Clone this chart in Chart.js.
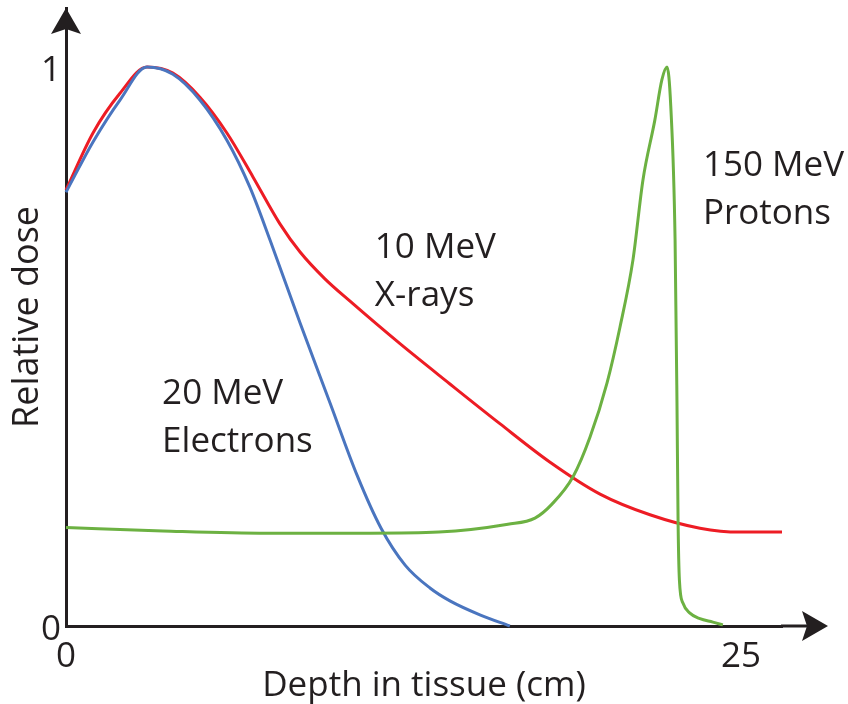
<!DOCTYPE html>
<html>
<head>
<meta charset="utf-8">
<script src="https://cdn.jsdelivr.net/npm/chart.js@4/dist/chart.umd.min.js"></script>
<style>
  html, body { margin: 0; padding: 0; background: #ffffff; }
  #wrap { width: 848px; height: 704px; }
</style>
</head>
<body>
<div id="wrap"><canvas id="dose" width="848" height="704"></canvas></div>
<script>
// Depth-dose curves (depth in cm, dose relative to each beam's maximum)
const xrayDepth = [0, 1.0, 2.0, 3.0, 3.96, 4.96, 5.96, 6.93, 7.93, 8.67, 9.59, 10.52, 12.37, 14.22, 16.07, 17.93, 19.78, 21.63, 23.48, 24.96, 26.52];
const xrayDose  = [0.780, 0.882, 0.953, 1.0, 0.989, 0.946, 0.882, 0.803, 0.719, 0.669, 0.621, 0.581, 0.505, 0.433, 0.362, 0.293, 0.236, 0.199, 0.175, 0.168, 0.168];

const electronDepth = [0, 1.0, 2.0, 3.0, 3.96, 4.96, 5.96, 6.81, 7.56, 8.67, 9.78, 10.78, 11.67, 12.56, 13.48, 14.22, 15.33, 16.44];
const electronDose  = [0.776, 0.866, 0.941, 1.0, 0.987, 0.941, 0.869, 0.785, 0.690, 0.542, 0.399, 0.270, 0.175, 0.109, 0.068, 0.045, 0.020, 0.0];

const protonDepth = [0, 3.59, 7.44, 11.26, 13.81, 16.37, 17.37, 18.0, 18.78, 19.41, 20.04, 20.52, 21.0, 21.37, 21.81, 22.07, 22.26, 22.40, 22.56, 22.63, 22.67, 22.72, 22.85, 23.11, 23.48, 23.96, 24.33];
const protonDose  = [0.176, 0.170, 0.166, 0.166, 0.168, 0.182, 0.193, 0.218, 0.267, 0.338, 0.435, 0.535, 0.655, 0.798, 0.905, 0.977, 1.0, 0.93, 0.69, 0.40, 0.19, 0.082, 0.041, 0.023, 0.013, 0.007, 0.002];

const xTicks = [0, 25];
const yTicks = [0, 1];

const curveLabels = [
  { lines: ['10 MeV', 'X-rays'],     x: 11.44, y: 0.658 },
  { lines: ['20 MeV', 'Electrons'],  x: 3.56,  y: 0.397 },
  { lines: ['150 MeV', 'Protons'],   x: 23.59, y: 0.805 }
];

const INK = '#231f20';
const FONT = "'Open Sans', 'DejaVu Sans', sans-serif";

const pairs = (xs, ys) => xs.map((v, i) => ({ x: v, y: ys[i] }));

// Arrowheads on both axes plus the x-axis run-out past the plot area
const axisArrows = {
  id: 'axisArrows',
  afterDraw(chart) {
    const { ctx, chartArea, scales: { x, y } } = chart;
    const ox = x.getPixelForValue(0);
    const oy = y.getPixelForValue(0);
    ctx.save();
    ctx.strokeStyle = INK;
    ctx.fillStyle = INK;
    ctx.lineWidth = 3;
    ctx.beginPath();
    ctx.moveTo(chartArea.right - 1, oy);
    ctx.lineTo(chartArea.right + 30, oy);
    ctx.stroke();

    const ty = chartArea.top;
    ctx.beginPath();
    ctx.moveTo(ox, ty);
    ctx.lineTo(ox + 15, ty + 26);
    ctx.lineTo(ox, ty + 21);
    ctx.lineTo(ox - 15, ty + 26);
    ctx.closePath();
    ctx.fill();

    const tx = chartArea.right + 46;
    ctx.beginPath();
    ctx.moveTo(tx, oy);
    ctx.lineTo(tx - 26, oy - 15);
    ctx.lineTo(tx - 21, oy);
    ctx.lineTo(tx - 26, oy + 15);
    ctx.closePath();
    ctx.fill();
    ctx.restore();
  }
};

// Two-line names written next to each curve
const curveNames = {
  id: 'curveNames',
  afterDatasetsDraw(chart) {
    const { ctx, scales: { x, y } } = chart;
    ctx.save();
    ctx.fillStyle = INK;
    ctx.font = '35px ' + FONT;
    ctx.textAlign = 'left';
    ctx.textBaseline = 'alphabetic';
    curveLabels.forEach(lbl => {
      const px = x.getPixelForValue(lbl.x);
      const py = y.getPixelForValue(lbl.y);
      lbl.lines.forEach((t, i) => ctx.fillText(t, px, py + i * 48));
    });
    ctx.restore();
  }
};

Chart.defaults.font.family = FONT;
Chart.defaults.color = INK;

new Chart(document.getElementById('dose'), {
  type: 'line',
  data: {
    datasets: [
      { label: '10 MeV X-rays', data: pairs(xrayDepth, xrayDose), borderColor: '#ed1c24', order: 2 },
      { label: '20 MeV Electrons', data: pairs(electronDepth, electronDose), borderColor: '#4a75bf', order: 1 },
      { label: '150 MeV Protons', data: pairs(protonDepth, protonDose), borderColor: '#6cb142', order: 0 }
    ]
  },
  options: {
    responsive: false,
    animation: false,
    clip: false,
    layout: { padding: { top: 8, right: 66, left: 0, bottom: 0 } },
    elements: {
      line: { borderWidth: 3, fill: false, cubicInterpolationMode: 'monotone', capBezierPoints: true },
      point: { radius: 0, hoverRadius: 0 }
    },
    plugins: { legend: { display: false }, tooltip: { enabled: false } },
    scales: {
      x: {
        type: 'linear',
        min: 0,
        max: 26.52,
        afterFit: s => { s.height = 78; s.paddingLeft = 0; s.paddingRight = 0; },
        afterBuildTicks: s => { s.ticks = xTicks.map(v => ({ value: v })); },
        grid: { display: false, drawTicks: false },
        border: { display: true, color: INK, width: 3 },
        ticks: { font: { size: 35 }, color: INK, padding: 10, maxRotation: 0, autoSkip: false, callback: v => String(v) },
        title: { display: true, text: 'Depth in tissue (cm)', font: { size: 35, lineHeight: 1 }, color: INK, padding: { top: 0, bottom: 0 } }
      },
      y: {
        type: 'linear',
        min: 0,
        max: 1.1056,
        afterFit: s => { s.width = 66; s.paddingTop = 0; s.paddingBottom = 0; },
        afterBuildTicks: s => { s.ticks = yTicks.map(v => ({ value: v })); },
        grid: { display: false, drawTicks: false },
        border: { display: true, color: INK, width: 3 },
        ticks: { font: { size: 35 }, color: INK, padding: 5, labelOffset: 4, autoSkip: false, callback: v => String(v) },
        title: { display: true, text: 'Relative dose', font: { size: 36, lineHeight: 1 }, color: INK, padding: { top: 10, bottom: 0 } }
      }
    }
  },
  plugins: [axisArrows, curveNames]
});
</script>
</body>
</html>
